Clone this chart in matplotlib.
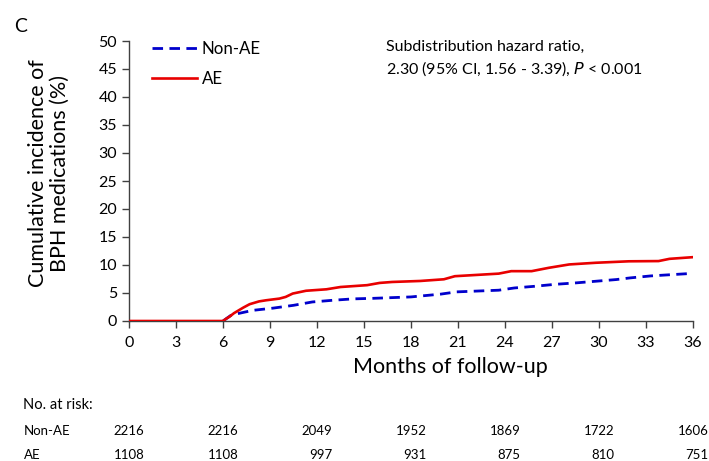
import matplotlib
matplotlib.use("Agg")
import matplotlib.pyplot as plt
from matplotlib.transforms import blended_transform_factory

plt.rcParams['font.family'] = ['Lato', 'DejaVu Sans']

# Data
ae_months = [0, 6.0, 6.2, 6.43, 6.7, 7.0, 7.3, 7.7, 8.3, 8.75, 9.6, 10.0, 10.45, 11.3,
             12.6, 13.5, 15.2, 16.0, 16.8, 18.6, 20.1, 20.8, 23.6, 24.4, 25.7, 26.8,
             28.1, 29.8, 31.9, 33.8, 34.5, 36.0]
ae_inc = [0, 0, 0.4, 0.8, 1.4, 1.9, 2.4, 3.0, 3.5, 3.7, 4.0, 4.3, 4.9, 5.4,
          5.66, 6.07, 6.4, 6.8, 6.97, 7.15, 7.45, 8.0, 8.46, 8.9, 8.9, 9.5,
          10.1, 10.4, 10.66, 10.7, 11.1, 11.4]

# Non-AE curve is hidden under the AE curve before month 6 in the reference
nonae_months = [6.0, 6.5, 6.75, 7.9, 9.2, 10.5, 11.7, 13.0, 14.3, 15.6, 18.0, 19.9,
                20.9, 23.6, 24.6, 25.9, 27.2, 28.5, 29.8, 31.1, 32.0, 33.3, 35.7, 36.0]
nonae_inc = [0, 1.0, 1.2, 1.9, 2.3, 2.8, 3.4, 3.7, 3.95, 4.05, 4.3, 4.8,
             5.2, 5.5, 5.9, 6.2, 6.55, 6.8, 7.1, 7.4, 7.7, 8.05, 8.46, 8.5]

risk_months = [0, 6, 12, 18, 24, 30, 36]
risk_nonae = [2216, 2216, 2049, 1952, 1869, 1722, 1606]
risk_ae = [1108, 1108, 997, 931, 875, 810, 751]

x_ticks = list(range(0, 37, 3))
y_ticks = list(range(0, 51, 5))

W, H = 709, 461
fig = plt.figure(figsize=(W / 100, H / 100), dpi=100)
ax = fig.add_axes([129 / W, 1 - 321 / H, (693 - 129) / W, (321 - 41) / H])

ax.plot(nonae_months, nonae_inc, color='#0000CC', lw=2.0, linestyle=(0, (3.8, 2.3)),
        label='Non-AE', zorder=2)
ax.plot(ae_months, ae_inc, color='#E80000', lw=1.9, label='AE', zorder=3)

ax.set_xlim(0, 36)
ax.set_ylim(0, 50)
ax.set_xticks(x_ticks)
ax.set_yticks(y_ticks)
for s in ['top', 'right']:
    ax.spines[s].set_visible(False)
for s in ['left', 'bottom']:
    ax.spines[s].set_color('#404040')
    ax.spines[s].set_linewidth(1.0)
ax.tick_params(axis='both', colors='#404040', labelcolor='black', labelsize=11.5,
               length=5, width=1.0, direction='out')
ax.tick_params(axis='x', pad=6)

leg = ax.legend(loc='upper left', bbox_to_anchor=(0.013, 1.055), frameon=False,
                fontsize=12.2, handlelength=2.7, handletextpad=0.25, labelspacing=0.85)

fig.text(386 / W, 1 - 59 / H,
         'Subdistribution hazard ratio,\n2.30 (95% CI, 1.56 - 3.39), $\\it{P}$ < 0.001',
         fontsize=11.5, va='center', ha='left', linespacing=1.45)

fig.text(14 / W, 1 - 26 / H, 'C', fontsize=14, va='center', ha='left')

fig.text(49 / W, 1 - 173 / H, 'Cumulative incidence of\nBPH medications (%)',
         rotation=90, fontsize=15.5, ha='center', va='center', linespacing=1.1)
fig.text(450 / W, 1 - 367 / H, 'Months of follow-up', fontsize=15.5,
         ha='center', va='center')

fig.text(23 / W, 1 - 405 / H, 'No. at risk:', fontsize=10.5, ha='left', va='center')
fig.text(24 / W, 1 - 431 / H, 'Non-AE', fontsize=9.5, ha='left', va='center')
fig.text(24 / W, 1 - 455 / H, 'AE', fontsize=9.5, ha='left', va='center')

trans = blended_transform_factory(ax.transData, fig.transFigure)
for m, a, b in zip(risk_months, risk_nonae, risk_ae):
    fig.text(m + 1.0, 1 - 431 / H, str(a), fontsize=9.5, ha='right', va='center',
             transform=trans)
    fig.text(m + 1.0, 1 - 455 / H, str(b), fontsize=9.5, ha='right', va='center',
             transform=trans)

fig.savefig('out.png', dpi=100)
